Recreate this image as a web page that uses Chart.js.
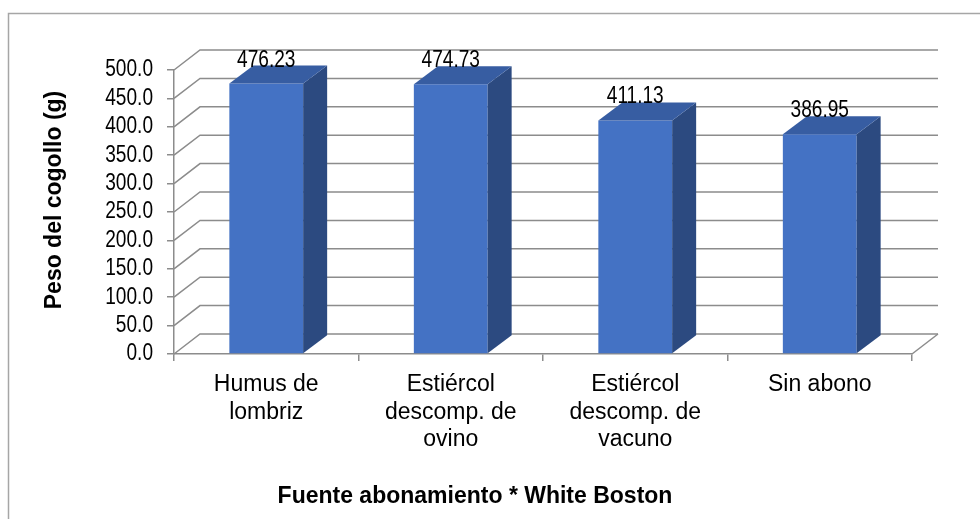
<!DOCTYPE html>
<html>
<head>
<meta charset="utf-8">
<script src="https://cdn.jsdelivr.net/npm/chart.js@4.4.1/dist/chart.umd.min.js"></script>
<style>
  html, body { margin: 0; padding: 0; background: #fff; }
  #wrap { width: 980px; height: 519px; }
</style>
</head>
<body>
<div id="wrap"><canvas id="peso" width="980" height="519"></canvas></div>
<script>
// data
const categories = [
  ["Humus de", "lombriz"],
  ["Estiércol", "descomp. de", "ovino"],
  ["Estiércol", "descomp. de", "vacuno"],
  ["Sin abono"]
];
const pesoCogollo = [476.23, 474.73, 411.13, 386.95];
const yMin = 0, yMax = 500, yStep = 50;
const yTitle = "Peso del cogollo (g)";
const xTitle = "Fuente abonamiento * White Boston";

// look
const gridColor = "#8c8c8c";
const frontColor = "#4472c4";
const sideColor = "#2c4a80";
const topColor = "#375da2";
const wall = { dx: 26, dy: -20 };
const depth = { dx: 24, dy: -18 };
const txtFamily = '"Liberation Sans", Arial, sans-serif';
const numFont = "23px " + txtFamily;
const narrow = 0.83; // numbers in the original are set in a narrow face

function narrowText(ctx, text, x, y, align, baseline) {
  ctx.save();
  ctx.translate(x, y);
  ctx.scale(narrow, 1);
  ctx.font = numFont;
  ctx.fillStyle = "#000";
  ctx.textAlign = align;
  ctx.textBaseline = baseline;
  ctx.fillText(text, 0, 0);
  ctx.restore();
}

const fake3d = {
  id: "fake3d",
  beforeDraw(chart) {
    const ctx = chart.ctx;
    ctx.save();
    ctx.strokeStyle = "#a6a6a6";
    ctx.lineWidth = 1.5;
    ctx.strokeRect(8.5, 13.5, 1000, 540);
    ctx.restore();
  },
  beforeDatasetsDraw(chart) {
    const { ctx, chartArea: a, scales: { y } } = chart;
    ctx.save();
    ctx.strokeStyle = gridColor;
    ctx.lineWidth = 1.5;
    y.ticks.forEach(t => {
      const py = y.getPixelForValue(t.value);
      ctx.beginPath();
      ctx.moveTo(a.left, py);
      ctx.lineTo(a.left + wall.dx, py + wall.dy);
      ctx.lineTo(a.right + wall.dx, py + wall.dy);
      ctx.stroke();
    });
    // right edge of the floor
    ctx.beginPath();
    ctx.moveTo(a.right, a.bottom);
    ctx.lineTo(a.right + wall.dx, a.bottom + wall.dy);
    ctx.stroke();
    ctx.restore();
    // value axis labels
    y.ticks.forEach(t => {
      narrowText(ctx, t.value.toFixed(1), a.left - 21, y.getPixelForValue(t.value), "right", "middle");
    });
  },
  afterDatasetsDraw(chart) {
    const ctx = chart.ctx;
    const meta = chart.getDatasetMeta(0);
    ctx.save();
    meta.data.forEach((bar, i) => {
      const half = bar.width / 2;
      const l = bar.x - half, r = bar.x + half, top = bar.y, base = bar.base;
      ctx.fillStyle = sideColor;
      ctx.beginPath();
      ctx.moveTo(r, top);
      ctx.lineTo(r + depth.dx, top + depth.dy);
      ctx.lineTo(r + depth.dx, base + depth.dy);
      ctx.lineTo(r, base);
      ctx.closePath();
      ctx.fill();
      ctx.fillStyle = topColor;
      ctx.beginPath();
      ctx.moveTo(l, top);
      ctx.lineTo(l + depth.dx, top + depth.dy);
      ctx.lineTo(r + depth.dx, top + depth.dy);
      ctx.lineTo(r, top);
      ctx.closePath();
      ctx.fill();
      narrowText(ctx, pesoCogollo[i].toFixed(2), bar.x, top - 17, "center", "alphabetic");
    });
    ctx.restore();
  },
  afterDraw(chart) {
    const ctx = chart.ctx;
    ctx.save();
    ctx.fillStyle = "#000";
    ctx.font = "bold 23px " + txtFamily;
    ctx.textAlign = "center";
    ctx.textBaseline = "middle";
    ctx.fillText(xTitle, 475, 497);
    ctx.translate(55, 200);
    ctx.rotate(-Math.PI / 2);
    ctx.fillText(yTitle, 0, 0);
    ctx.restore();
  }
};

new Chart("peso", {
  type: "bar",
  data: {
    labels: categories,
    datasets: [{
      data: pesoCogollo,
      backgroundColor: frontColor,
      borderWidth: 0,
      barPercentage: 0.4,
      categoryPercentage: 1
    }]
  },
  options: {
    responsive: false,
    animation: false,
    layout: { padding: { top: 70, right: 68, left: 0, bottom: 0 } },
    plugins: {
      legend: { display: false },
      tooltip: { enabled: false }
    },
    scales: {
      x: {
        afterFit: s => { s.height = 165; },
        grid: { display: true, drawOnChartArea: false, offset: true, color: gridColor, lineWidth: 1.5, tickLength: 7 },
        border: { color: gridColor, width: 1.5 },
        ticks: {
          color: "#000",
          padding: 10,
          maxRotation: 0,
          autoSkip: false,
          font: { family: txtFamily, size: 23, lineHeight: 1.2 }
        }
      },
      y: {
        min: yMin,
        max: yMax,
        afterFit: s => { s.width = 174; },
        grid: { display: true, drawOnChartArea: false, color: gridColor, lineWidth: 1.5, tickLength: 7 },
        border: { color: gridColor, width: 1.5 },
        ticks: {
          display: false,
          autoSkip: false,
          stepSize: yStep
        }
      }
    }
  },
  plugins: [fake3d]
});
</script>
</body>
</html>
